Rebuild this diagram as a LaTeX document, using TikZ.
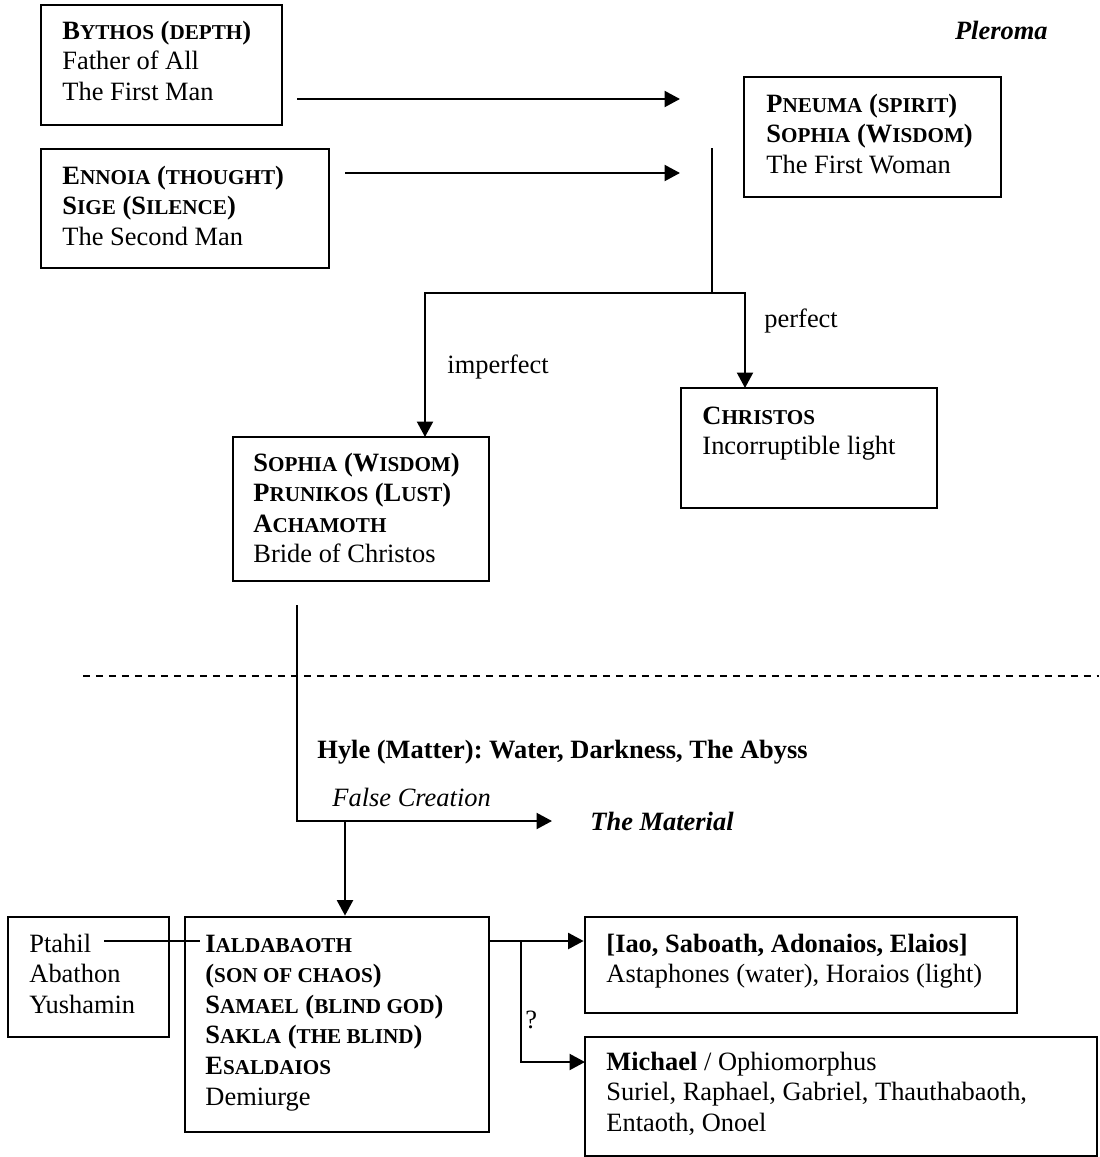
\documentclass[tikz,border=0pt]{standalone}
\usepackage{fontspec}
\setmainfont{Liberation Serif}
\usetikzlibrary{arrows.meta,fit}
\frenchspacing
\newcommand\sm[1]{{\fontsize{9.6pt}{10pt}\selectfont #1}}
\newcommand\blk[1]{\vtop{\baselineskip=13.9pt\lineskiplimit=-20pt #1}}
\newcommand\tline[1]{\hbox{#1}}
\begin{document}
\begin{tikzpicture}[x=0.454pt,y=-0.454pt,
  font=\fontsize{12pt}{13.9pt}\selectfont,
  boxst/.style={draw, line width=1.25pt, inner sep=0pt},
  txt/.style={anchor=base west, inner sep=0pt},
  conn/.style={line width=1.1pt},
  arr/.style={conn,-{Triangle[length=7pt,width=7.2pt]}}]
\path[use as bounding box] (0,0) rectangle (1099,1157);

% boxes
\node[boxst, fit={(41,5)(282,125)}] (bythos) {};
\node[txt] (bythosT) at (62,39) {\blk{\tline{\textbf{B\sm{YTHOS} (\sm{DEPTH})}}\tline{Father of All}\tline{The First Man}}};

\node[boxst, fit={(41,149)(329,268)}] (ennoia) {};
\node[txt] (ennoiaT) at (62,184) {\blk{\tline{\textbf{E\sm{NNOIA} (\sm{THOUGHT})}}\tline{\textbf{S\sm{IGE} (S\sm{ILENCE})}}\tline{The Second Man}}};

\node[boxst, fit={(744,77)(1001,197)}] (pneuma) {};
\node[txt] (pneumaT) at (766,112) {\blk{\tline{\textbf{P\sm{NEUMA} (\sm{SPIRIT})}}\tline{\textbf{S\sm{OPHIA} (W\sm{ISDOM})}}\tline{The First Woman}}};

\node[boxst, fit={(681,388)(937,508)}] (christos) {};
\node[txt] (christosT) at (702,424) {\blk{\tline{\textbf{C\sm{HRISTOS}}}\tline{Incorruptible light}}};

\node[boxst, fit={(233,437)(489,581)}] (sophia) {};
\node[txt] (sophiaT) at (253,471) {\blk{\tline{\textbf{S\sm{OPHIA} (W\sm{ISDOM})}}\tline{\textbf{P\sm{RUNIKOS} (L\sm{UST})}}\tline{\textbf{A\sm{CHAMOTH}}}\tline{Bride of Christos}}};

\node[boxst, fit={(8,917)(169,1037)}] (ptahil) {};
\node[txt] (ptahilT) at (29,952) {\blk{\tline{Ptahil}\tline{Abathon}\tline{Yushamin}}};

\node[boxst, fit={(185,917)(489,1132)}] (ialda) {};
\node[txt] (ialdaT) at (205,952) {\blk{\tline{\textbf{I\sm{ALDABAOTH}}}\tline{\textbf{(\sm{SON OF CHAOS})}}\tline{\textbf{S\sm{AMAEL} (\sm{BLIND GOD})}}\tline{\textbf{S\sm{AKLA} (\sm{THE BLIND})}}\tline{\textbf{E\sm{SALDAIOS}}}\tline{Demiurge}}};

\node[boxst, fit={(585,917)(1017,1013)}] (iao) {};
\node[txt] (iaoT) at (606,952) {\blk{\tline{\textbf{[Iao, Saboath, Adonaios, Elaios]}}\tline{Astaphones (water), Horaios (light)}}};

\node[boxst, fit={(585,1037)(1097,1156)}] (michael) {};
\node[txt] (michaelT) at (606,1070) {\blk{\tline{\textbf{Michael} / Ophiomorphus}\tline{Suriel, Raphael, Gabriel, Thauthabaoth,}\tline{Entaoth, Onoel}}};

% labels
\node[txt, anchor=base east] (pleroma) at (1048,39) {\textbf{\textit{Pleroma}}};
\node[txt] (perfect) at (764,327) {perfect};
\node[txt] (imperfect) at (447,373) {imperfect};
\node[txt] (hyle) at (317,758) {\textbf{Hyle (Matter): Water, Darkness, The Abyss}};
\node[txt] (falsec) at (332,806) {\textit{False Creation}};
\node[txt] (material) at (590,830) {\textbf{\textit{The Material}}};
\node[txt] (qmark) at (525,1028) {?};

% coordinates
\coordinate (a1s) at (297,99);  \coordinate (a1e) at (680,99);
\coordinate (a2s) at (345,173); \coordinate (a2e) at (680,173);
\coordinate (pv) at (712,148);  \coordinate (j1) at (712,293);
\coordinate (sTop) at (425,437); \coordinate (cTop) at (745,388);
\coordinate (sBot) at (297,605); \coordinate (fc) at (552,821);
\coordinate (j2) at (345,821);
\coordinate (dL) at (83,676); \coordinate (dR) at (1099,676);
\coordinate (p1) at (104,941); \coordinate (p2) at (200,941);
\coordinate (r0) at (489,941); \coordinate (j3) at (521,941);
\coordinate (mIn) at (585,1062);

% connectors
\draw[arr] (a1s) -- (a1e);
\draw[arr] (a2s) -- (a2e);
\draw[conn] (pv) -- (j1);
\draw[arr] (j1) -| (sTop);
\draw[arr] (j1) -| (cTop);
\draw[arr] (sBot) |- (fc);
\draw[arr] (j2) -- (ialda.north -| j2);
\draw[conn, dash pattern=on 3.3pt off 2.6pt] (dL) -- (dR);
\draw[conn] (p1) -- (p2);
\draw[arr] (r0) -- (iao.west |- r0);
\draw[arr] (j3) |- (mIn);
\end{tikzpicture}
\end{document}
